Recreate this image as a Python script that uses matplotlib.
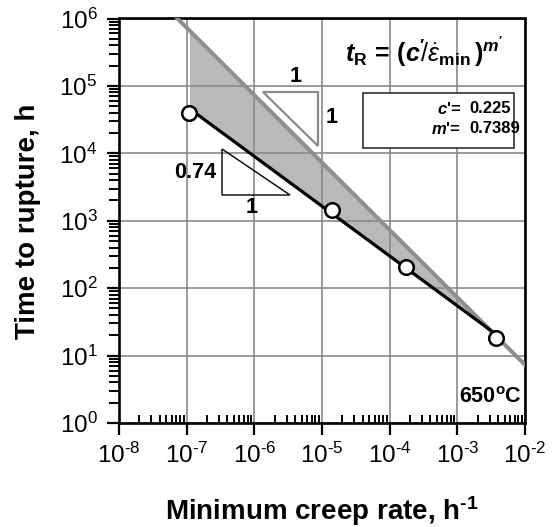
import numpy as np
import matplotlib
matplotlib.use('Agg')
import matplotlib.pyplot as plt
from matplotlib.patches import Polygon, Rectangle
from matplotlib.ticker import LogLocator, FixedLocator, FixedFormatter, NullFormatter

plt.rcParams['font.family'] = ['Liberation Sans', 'DejaVu Sans']
plt.rcParams['mathtext.fontset'] = 'custom'
plt.rcParams['mathtext.rm'] = 'Liberation Sans'
plt.rcParams['mathtext.it'] = 'Liberation Sans:italic'
plt.rcParams['mathtext.bf'] = 'Liberation Sans:bold'
plt.rcParams['mathtext.bfit'] = 'Liberation Sans:italic:bold'
plt.rcParams['mathtext.sf'] = 'Liberation Sans'

# ---------------- data ----------------
creep_rate = [1.1e-7, 1.4e-5, 1.75e-4, 3.7e-3]      # h^-1
rupture_time = [3.9e4, 1.44e3, 205.0, 18.0]          # h
c_prime = 0.225
m_prime = 0.7389
mg_const = 0.073                                      # slope -1 bound: tR = C / eps

x_ticks = [1e-8, 1e-7, 1e-6, 1e-5, 1e-4, 1e-3, 1e-2]
x_tick_labels = ['$\\mathregular{10^{\u20108}}$', '$\\mathregular{10^{\u20107}}$',
                 '$\\mathregular{10^{\u20106}}$', '$\\mathregular{10^{\u20105}}$',
                 '$\\mathregular{10^{\u20104}}$', '$\\mathregular{10^{\u20103}}$',
                 '$\\mathregular{10^{\u20102}}$']
y_ticks = [1e0, 1e1, 1e2, 1e3, 1e4, 1e5, 1e6]
y_tick_labels = ['$\\mathregular{10^{0}}$', '$\\mathregular{10^{1}}$', '$\\mathregular{10^{2}}$',
                 '$\\mathregular{10^{3}}$', '$\\mathregular{10^{4}}$', '$\\mathregular{10^{5}}$',
                 '$\\mathregular{10^{6}}$']

# ---------------- figure ----------------
W, H = 555, 527
fig = plt.figure(figsize=(W / 100, H / 100), dpi=100)
L, R, T, B = 119, 525, 18.5, 423
ax = fig.add_axes([L / W, 1 - B / H, (R - L) / W, (B - T) / H])


def ax_frac(xp, yp):
    return ((xp - L) / (R - L), (B - yp) / (B - T))


ax.set_xscale('log')
ax.set_yscale('log')
ax.set_xlim(x_ticks[0], x_ticks[-1])
ax.set_ylim(y_ticks[0], y_ticks[-1])

# fitted line and slope -1 bound
x_fit = np.geomspace(creep_rate[0], creep_rate[-1], 200)
y_fit = (c_prime / x_fit) ** m_prime
x_int = 10 ** ((np.log10(mg_const) - m_prime * np.log10(c_prime)) / (1 - m_prime))
x_fill = np.geomspace(creep_rate[0], x_int, 200)
ax.fill_between(x_fill, (c_prime / x_fill) ** m_prime, mg_const / x_fill,
                color='#b9b9b9', linewidth=0, zorder=0.3)

x_mg = np.geomspace(1e-9, 1e-1, 50)
ax.plot(x_mg, mg_const / x_mg, color='#8e8e8e', lw=2.9, zorder=3, solid_capstyle='butt')
ax.plot(x_fit, y_fit, color='black', lw=2.3, zorder=4)
ax.plot(creep_rate, rupture_time, 'o', ms=10.5, mfc='white', mec='black', mew=1.8, zorder=5,
        clip_on=False)

# grid
ax.grid(True, which='major', color='#8a8a8a', lw=1.2)
ax.set_axisbelow(True)

# ticks
ax.xaxis.set_major_locator(FixedLocator(x_ticks))
ax.xaxis.set_major_formatter(FixedFormatter(x_tick_labels))
ax.yaxis.set_major_locator(FixedLocator(y_ticks))
ax.yaxis.set_major_formatter(FixedFormatter(y_tick_labels))
ax.xaxis.set_minor_locator(LogLocator(base=10, subs=np.arange(2, 10), numticks=20))
ax.yaxis.set_minor_locator(LogLocator(base=10, subs=np.arange(2, 10), numticks=20))
ax.xaxis.set_minor_formatter(NullFormatter())
ax.yaxis.set_minor_formatter(NullFormatter())
ax.tick_params(axis='x', which='major', direction='out', length=8.5, width=1.6,
               labelsize=17.5, pad=6, color='black')
ax.tick_params(axis='x', which='minor', direction='in', length=5.5, width=1.4)
ax.tick_params(axis='y', which='major', direction='out', length=8.5, width=1.6,
               labelsize=17.5, pad=7)
ax.tick_params(axis='y', which='minor', direction='out', length=7.5, width=1.4)
for s in ax.spines.values():
    s.set_linewidth(1.9)

# axis labels
fig.text(0.58, 1 - 520 / H, 'Minimum creep rate, h$^{\\mathbf{\u20101}}$', ha='center', va='baseline',
         fontsize=20, fontweight='bold')
fig.text(28.5 / W, 1 - 221 / H, 'Time to rupture, h', ha='center', va='center', rotation=90,
         fontsize=20, fontweight='bold')

# slope triangles
tri1 = Polygon([ax_frac(263, 92), ax_frac(318, 92), ax_frac(318, 146)], closed=True,
               transform=ax.transAxes, facecolor='white', edgecolor='#8a8a8a', lw=1.6, zorder=2)
ax.add_patch(tri1)
tri2 = Polygon([ax_frac(222, 149), ax_frac(222, 195), ax_frac(290, 195)], closed=True,
               transform=ax.transAxes, facecolor='none', edgecolor='black', lw=1.0, zorder=2)
ax.add_patch(tri2)
for (xp, yp, s) in [(296, 77, '1'), (332, 118, '1'), (195, 173, '0.74'), (252, 208, '1')]:
    ax.text(*ax_frac(xp, yp), s, transform=ax.transAxes, ha='center', va='center',
            fontsize=15.5, fontweight='bold', zorder=6)

# equation
ax.text(*ax_frac(345, 62),
        r"$\mathbfit{t}_{\mathbf{R}}\,\mathbf{=}\,\mathbf{(}\mathbfit{c}\mathbf{'}\!\mathit{/}\dot{\varepsilon}_{\mathbf{min}}\,\mathbf{)}^{\mathbfit{m}\mathbf{'}}$",
        transform=ax.transAxes, ha='left', va='baseline', fontsize=18, zorder=6)

# parameter box
x0, y0 = ax_frac(363, 148)
x1, y1 = ax_frac(514, 93)
ax.add_patch(Rectangle((x0, y0), x1 - x0, y1 - y0, transform=ax.transAxes, facecolor='white',
                       edgecolor='#303030', lw=1.2, zorder=6))
ax.text(*ax_frac(461, 109), "$\\mathbfit{c}$'=", transform=ax.transAxes, ha='right', va='center',
        fontsize=12, fontweight='bold', zorder=7)
ax.text(*ax_frac(469, 109), f"{c_prime:.3f}", transform=ax.transAxes, ha='left', va='center',
        fontsize=12, fontweight='bold', zorder=7)
ax.text(*ax_frac(461, 129), "$\\mathbfit{m}$'=", transform=ax.transAxes, ha='right', va='center',
        fontsize=12, fontweight='bold', zorder=7)
ax.text(*ax_frac(469, 129), f"{m_prime:.4f}", transform=ax.transAxes, ha='left', va='center',
        fontsize=12, fontweight='bold', zorder=7)

# temperature
ax.text(*ax_frac(522, 403), '650$^{\\mathbf{o}}$C', transform=ax.transAxes, ha='right',
        va='baseline', fontsize=15.5, fontweight='bold', zorder=6)

fig.savefig('out.png', dpi=100)
